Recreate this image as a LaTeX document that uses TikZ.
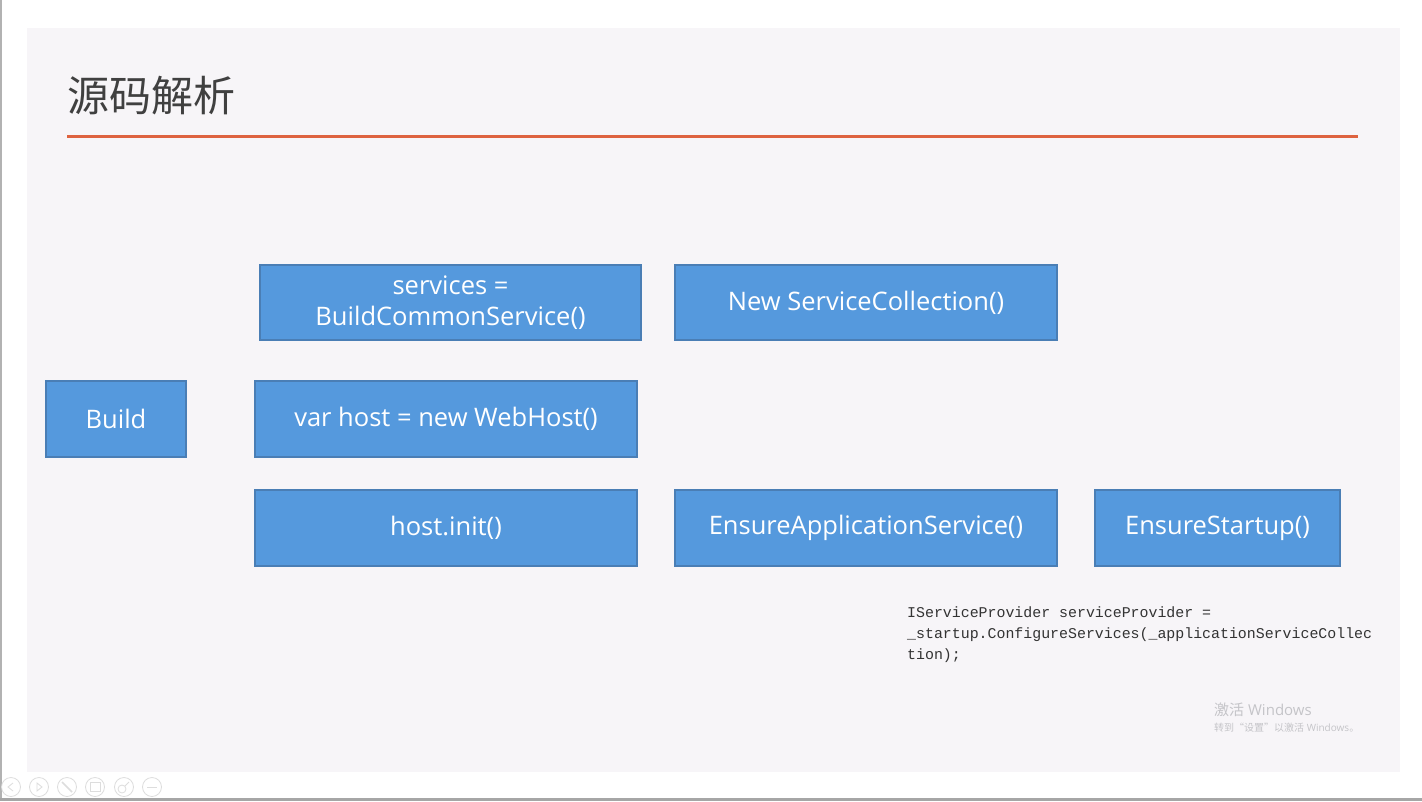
\documentclass[tikz,border=0pt]{standalone}
\usepackage{fontspec}
\setmainfont{Open Sans}
\newfontfamily\cjk{Noto Sans CJK SC}
\newfontfamily\codefont{Liberation Mono}
\begin{document}
\begin{tikzpicture}[x=1pt,y=-1pt,
  blk/.style={draw=boxborder,fill=boxfill,line width=1.2pt,text=white,font=\fontsize{25.5}{31}\selectfont,align=center,inner sep=0pt},
  icon/.style={draw=iconc,line width=0.8pt,circle,minimum size=19pt,inner sep=0pt}]
\definecolor{slidebg}{HTML}{F7F5F8}
\definecolor{boxfill}{HTML}{5599DD}
\definecolor{boxborder}{HTML}{4A7EB5}
\definecolor{titlec}{HTML}{404040}
\definecolor{linec}{HTML}{DE6340}
\definecolor{iconc}{HTML}{DDDDDD}
\definecolor{wm}{HTML}{C4C4C8}
\useasboundingbox (0,0) rectangle (1422,801);
\fill[white] (0,0) rectangle (1422,801);
\fill[gray!60] (0,0) rectangle (2,801);
\fill[gray!70] (0,798) rectangle (1422,801);
\fill[slidebg] (27,28) rectangle (1400,772);
% title
\node[anchor=west,text=titlec,font=\cjk\fontsize{42}{48}\selectfont,inner sep=0pt] (title) at (67,96) {源码解析};
\draw[linec,line width=3pt] (67,136) -- (1358,136);
% boxes
\node[blk,minimum width=381pt,minimum height=75pt] (svc) at (450.5,302.5) {services =\\BuildCommonService()};
\node[blk,minimum width=382pt,minimum height=75pt] (newsc) at (866,302.5) {New ServiceCollection()};
\node[blk,minimum width=140pt,minimum height=76pt] (build) at (116,419) {Build};
\node[blk,minimum width=382pt,minimum height=76pt] (host) at (446,419) {var host = new WebHost()};
\node[blk,minimum width=382pt,minimum height=76pt] (init) at (446,528) {host.init()};
\node[blk,minimum width=382pt,minimum height=76pt] (eas) at (866,528) {EnsureApplicationService()};
\node[blk,minimum width=245pt,minimum height=76pt] (es) at (1217.5,528) {EnsureStartup()};
% code
\node[anchor=north west,inner sep=0pt,align=left,text=black!80,font=\codefont\fontsize{14.9}{21}\selectfont] (code) at (907,606) {IServiceProvider serviceProvider =\\\_startup.ConfigureServices(\_applicationServiceCollec\\tion);};
% watermark
\node[anchor=west,inner sep=0pt,text=wm,font=\fontsize{15}{18}\selectfont] (wm1) at (1214,710) {{\cjk 激活} Windows};
\node[anchor=west,inner sep=0pt,text=wm,font=\fontsize{10}{12}\selectfont] (wm2) at (1214,728) {{\cjk 转到“设置”以激活} Windows{\cjk 。}};
% bottom icons
\node[icon] (i1) at (11,787) {};
\node[icon] (i2) at (39,787) {};
\node[icon] (i3) at (67,787) {};
\node[icon] (i4) at (95,787) {};
\node[icon] (i5) at (124,787) {};
\node[icon] (i6) at (152,787) {};
\draw[iconc,line width=0.8pt] ([xshift=2pt,yshift=-4pt]i1.center) -- ([xshift=-3pt]i1.center) -- ([xshift=2pt,yshift=4pt]i1.center);
\draw[iconc,line width=0.8pt] ([xshift=-2pt,yshift=-4pt]i2.center) -- ([xshift=3pt]i2.center) -- ([xshift=-2pt,yshift=4pt]i2.center) -- cycle;
\draw[iconc,line width=1.5pt] ([xshift=-5pt,yshift=5pt]i3.center) -- ([xshift=5pt,yshift=-5pt]i3.center);
\draw[iconc,line width=0.8pt] ([xshift=-5pt,yshift=-4pt]i4.center) rectangle ([xshift=5pt,yshift=5pt]i4.center);
\draw[iconc,line width=0.8pt] ([xshift=-2pt,yshift=-2pt]i5.center) circle (4pt);
\draw[iconc,line width=1pt] ([xshift=1pt,yshift=1pt]i5.center) -- ([xshift=5pt,yshift=5pt]i5.center);
\draw[iconc,line width=0.8pt] ([xshift=-5pt]i6.center) -- ([xshift=5pt]i6.center);
\end{tikzpicture}
\end{document}
